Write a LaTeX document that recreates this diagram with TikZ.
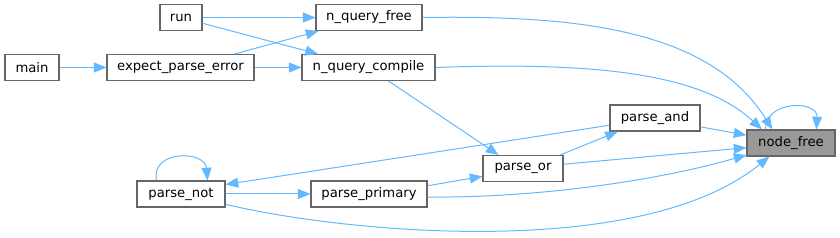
\documentclass[tikz,border=0pt]{standalone}
\usepackage{fontspec}
\setmainfont{DejaVu Sans}
\definecolor{edgeBlue}{HTML}{63B8FF}
\definecolor{boxLine}{HTML}{666666}
\definecolor{hlFill}{HTML}{999999}
\usepackage{tikz}
\usetikzlibrary{arrows.meta,positioning,calc}

\begin{document}
\begin{tikzpicture}[x=0.75pt, y=-0.75pt,
    fn/.style={draw=boxLine, line width=0.8pt, fill=white, minimum height=19.5pt,
      inner sep=0pt, font=\fontsize{9.9pt}{12pt}\selectfont},
    hl/.style={fn, fill=hlFill},
    edge/.style={edgeBlue, line width=0.75pt, -{Triangle[length=9.5pt, width=7.5pt]}}]
    \useasboundingbox (0,0) rectangle (840,238);

    % Callers at the far left
    \node[fn, minimum width=40.5pt] (main) at (32,67.5) {main};
    \node[fn, minimum width=31.5pt] (run) at (181,17.5) {run};
    \node[fn, minimum width=110.25pt] (expect) at (180.5,67.5) {expect\_parse\_error};

    % Query entry points
    \node[fn, minimum width=79.5pt] (nqfree) at (369,17.5) {n\_query\_free};
    \node[fn, minimum width=99.75pt] (nqcompile) at (368.5,67.5) {n\_query\_compile};

    % Parser functions
    \node[fn, minimum width=67.5pt] (parseand) at (655,118) {parse\_and};
    \node[fn, minimum width=60pt] (parseor) at (523,168.5) {parse\_or};
    \node[fn, minimum width=66pt] (parsenot) at (181,194) {parse\_not};
    \node[fn, minimum width=87pt] (parseprimary) at (369,194) {parse\_primary};

    % The function of this graph
    \node[hl, minimum width=66pt] (nodefree) at (791,143) {node\_free};

    % Upper part
    \draw[edge] (main.east) -- (expect.west);
    \draw[edge] (expect.east) -- (nqcompile.west);
    \draw[edge] (expect.14) -- (nqfree.-165);
    \draw[edge] (run.east) -- (nqfree.west);
    \draw[edge] (run.-15) -- (nqcompile.165);
    \draw[edge] (nqfree.east) .. controls (580,15) and (710,30) .. (nodefree.144);
    \draw[edge] (nqcompile.east) .. controls (590,62) and (700,72) .. (nodefree.155);
    \draw[edge] (nqcompile.-34) -- (parseor.151);

    % Parser calls
    \draw[edge] (parseor.20) -- (parseand.200);
    \draw[edge] (parseand.-11) -- (nodefree.170);
    \draw[edge] (parseand.189) -- (parsenot.12);
    \draw[edge] (parseor.6) -- (nodefree.186);
    \draw[edge] (parseprimary.8) -- (parseor.191);
    \draw[edge] (parsenot.east) -- (parseprimary.west);
    \draw[edge] (parseprimary.-3) .. controls (540,198) and (660,180) .. (nodefree.195);
    \draw[edge] (parsenot.-13) .. controls (340,232) and (640,262) .. (nodefree.212);

    % Recursive calls
    \draw[edge] (parsenot.151) .. controls (150,150) and (205,150) .. (parsenot.27);
    \draw[edge] (nodefree.152) .. controls (765,100) and (818,100) .. (nodefree.28);
  \end{tikzpicture}
\end{document}
